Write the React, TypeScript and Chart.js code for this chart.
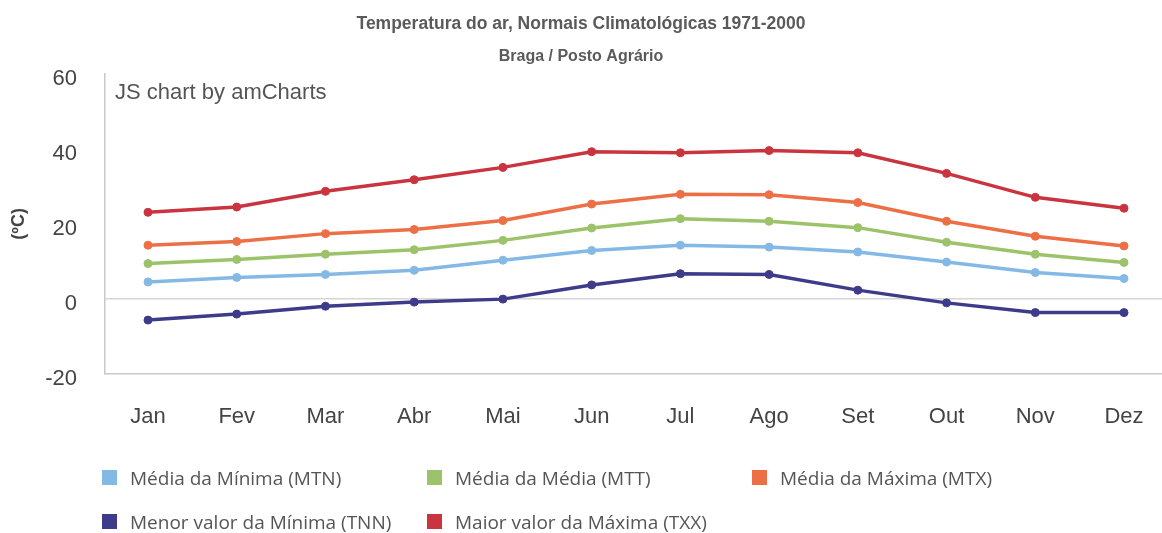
import React, { useEffect, useRef } from "react";
import { Chart, registerables } from "chart.js";

Chart.register(...registerables);

const MONTHS = ["Jan", "Fev", "Mar", "Abr", "Mai", "Jun", "Jul", "Ago", "Set", "Out", "Nov", "Dez"];
const MTN = [4.5, 5.7, 6.5, 7.6, 10.3, 12.9, 14.3, 13.8, 12.5, 9.8, 7.0, 5.4];
const MTT = [9.4, 10.5, 11.9, 13.1, 15.6, 18.9, 21.4, 20.7, 19.0, 15.1, 11.9, 9.7];
const MTX = [14.3, 15.3, 17.4, 18.5, 20.9, 25.3, 27.9, 27.8, 25.7, 20.7, 16.7, 14.1];
const TNN = [-5.7, -4.1, -2.0, -0.9, -0.1, 3.7, 6.7, 6.5, 2.3, -1.1, -3.7, -3.7];
const TXX = [23.1, 24.5, 28.7, 31.8, 35.1, 39.3, 39.0, 39.6, 39.0, 33.5, 27.1, 24.2];
const Y_TICKS = [-20, 0, 20, 40, 60];

const SERIES_NAMES = [
  "Média da Mínima (MTN)",
  "Média da Média (MTT)",
  "Média da Máxima (MTX)",
  "Menor valor da Mínima (TNN)",
  "Maior valor da Máxima (TXX)",
];
const SERIES_VALUES = [MTN, MTT, MTX, TNN, TXX];
const SERIES_COLORS = ["#84b9e6", "#9cc26a", "#ec6f45", "#3e3b8a", "#c9343f"];

const TITLE = "Temperatura do ar, Normais Climatológicas 1971-2000";
const SUBTITLE = "Braga / Posto Agrário";
const Y_TITLE = "(ºC)";
const CREDIT = "JS chart by amCharts";

const creditPlugin = {
  id: "credit",
  afterDraw(chart: any) {
    const { ctx, chartArea } = chart;
    ctx.save();
    ctx.font = '22px "Liberation Sans", Arial, sans-serif';
    ctx.fillStyle = "#555";
    ctx.textAlign = "left";
    ctx.textBaseline = "middle";
    ctx.fillText(CREDIT, chartArea.left + 10, 93);
    ctx.restore();
  },
};

export default function App() {
  const canvasRef = useRef<HTMLCanvasElement | null>(null);

  useEffect(() => {
    document.body.style.margin = "0";
    const canvas = canvasRef.current;
    if (!canvas) return;
    Chart.defaults.font.family = '"Liberation Sans", Arial, sans-serif';
    const datasets = SERIES_VALUES.map((vals, si) => ({
      label: SERIES_NAMES[si],
      data: vals.map((v, i) => ({ x: i, y: v })),
      borderColor: SERIES_COLORS[si],
      backgroundColor: SERIES_COLORS[si],
      pointBackgroundColor: SERIES_COLORS[si],
      pointBorderColor: SERIES_COLORS[si],
      borderWidth: 3.5,
      pointRadius: 4,
      pointBorderWidth: 1,
      tension: 0,
      fill: false,
    }));
    const chart = new Chart(canvas, {
      type: "line",
      data: { datasets },
      plugins: [creditPlugin],
      options: {
        animation: false,
        responsive: false,
        layout: { autoPadding: false, padding: { left: 0, right: 0, top: 0, bottom: 73 } },
        plugins: {
          legend: { display: false },
          tooltip: { enabled: false },
          title: {
            display: true,
            text: TITLE,
            color: "#5a5a5a",
            font: { size: 17.5, weight: "bold" },
            padding: { top: 14, bottom: 0 },
          },
          subtitle: {
            display: true,
            text: SUBTITLE,
            color: "#5a5a5a",
            font: { size: 16, weight: "bold" },
            padding: { top: 12, bottom: 8 },
          },
        },
        scales: {
          x: {
            type: "linear",
            min: -0.4846,
            max: 11.428,
            afterBuildTicks: (scale: any) => {
              scale.ticks = MONTHS.map((_, i) => ({ value: i }));
            },
            afterFit: (scale: any) => {
              scale.paddingLeft = 0;
              scale.paddingRight = 0;
            },
            grid: { display: false, drawTicks: false },
            border: { display: true, color: "#c8c8c8", width: 1.5 },
            ticks: {
              color: "#444",
              font: { size: 22 },
              padding: 30,
              maxRotation: 0,
              autoSkip: false,
              callback: (v: any) => MONTHS[v] ?? "",
            },
          },
          y: {
            min: -20,
            max: 60,
            afterBuildTicks: (scale: any) => {
              scale.ticks = Y_TICKS.map((v) => ({ value: v }));
            },
            afterFit: (scale: any) => {
              scale.width = 105;
            },
            grid: {
              drawTicks: false,
              color: (ctx: any) => (ctx.tick && ctx.tick.value === 0 ? "#d6d6d6" : "rgba(0,0,0,0)"),
              lineWidth: 1.5,
            },
            border: { display: true, color: "#c8c8c8", width: 1.5 },
            ticks: {
              color: "#444",
              font: { size: 22 },
              padding: 28,
              labelOffset: 5,
            },
            title: {
              display: true,
              text: Y_TITLE,
              color: "#444",
              font: { size: 18, weight: "bold" },
              padding: { top: 8, bottom: 0 },
            },
          },
        },
      },
    } as any);
    return () => chart.destroy();
  }, []);

  const rows = [
    [0, 1, 2],
    [3, 4],
  ];

  return (
    <div style={{ position: "relative", width: 1162, height: 533, overflow: "hidden", background: "#fff" }}>
      <canvas ref={canvasRef} width={1162} height={533} style={{ display: "block" }} />
      {rows.map((row, ri) =>
        row.map((si, ci) => (
          <div
            key={si}
            style={{
              position: "absolute",
              left: 102 + ci * 325,
              top: 469 + ri * 44,
              display: "flex",
              alignItems: "center",
              height: 17,
              whiteSpace: "nowrap",
              fontFamily: '"Open Sans", sans-serif',
              fontSize: 19,
              color: "#555",
            }}
          >
            <span
              style={{
                display: "inline-block",
                width: 15,
                height: 15,
                background: SERIES_COLORS[si],
                marginRight: 13,
              }}
            />
            <span>{SERIES_NAMES[si]}</span>
          </div>
        ))
      )}
    </div>
  );
}
